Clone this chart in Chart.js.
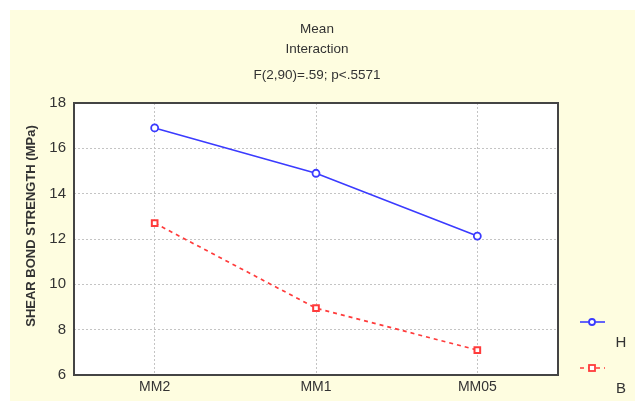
<!DOCTYPE html>
<html lang="en">
<head>
  <meta charset="UTF-8" />
  <title>Mean Interaction</title>
  <script src="https://cdn.jsdelivr.net/npm/chart.js"></script>
  <style>
    body { margin: 0; background: #fff; }
    #wrap { width: 635px; height: 401px; }
  </style>
</head>
<body>
  <div id="wrap"><canvas id="meanChart" width="635" height="401"></canvas></div>
  <script>
    const groups = ['MM2', 'MM1', 'MM05'];
    const seriesH = [16.9, 14.9, 12.13];
    const seriesB = [12.7, 8.95, 7.1];
    const titleLines = ['Mean', 'Interaction', 'F(2,90)=.59; p<.5571'];
    const yTitle = 'SHEAR BOND STRENGTH (MPa)';

    const FONT = '"Liberation Sans", Arial, sans-serif';

    // beige panel, titles, frame and the little legend on the right
    const decor = {
      id: 'decor',
      beforeDraw(chart) {
        const { ctx, chartArea: a } = chart;
        ctx.save();
        ctx.fillStyle = '#fefde0';
        ctx.fillRect(10, 10, chart.width - 10, chart.height - 10);
        ctx.fillStyle = '#fff';
        ctx.fillRect(a.left, a.top, a.right - a.left, a.bottom - a.top);
        ctx.restore();
      },
      afterDraw(chart) {
        const { ctx, chartArea: a } = chart;
        ctx.save();
        ctx.fillStyle = '#333';
        ctx.textAlign = 'center';
        ctx.textBaseline = 'middle';
        ctx.font = '13.5px ' + FONT;
        const ys = [29, 49, 75];
        titleLines.forEach((t, i) => ctx.fillText(t, 317, ys[i]));

        ctx.translate(31, 226);
        ctx.rotate(-Math.PI / 2);
        ctx.font = 'bold 13px ' + FONT;
        ctx.fillText(yTitle, 0, 0);
        ctx.restore();

        ctx.save();
        ctx.strokeStyle = '#444';
        ctx.lineWidth = 2;
        ctx.strokeRect(a.left, a.top, a.right - a.left, a.bottom - a.top);
        ctx.restore();

        // legend
        const items = [
          { ds: chart.data.datasets[0], y: 322 },
          { ds: chart.data.datasets[1], y: 368 }
        ];
        items.forEach(it => {
          ctx.save();
          ctx.strokeStyle = it.ds.borderColor;
          ctx.lineWidth = it.ds.borderWidth;
          ctx.setLineDash(it.ds.borderDash || []);
          ctx.beginPath();
          ctx.moveTo(580, it.y);
          ctx.lineTo(605, it.y);
          ctx.stroke();
          ctx.setLineDash([]);
          ctx.fillStyle = '#fff';
          ctx.lineWidth = 1.8;
          if (it.ds.pointStyle === 'rect') {
            ctx.fillRect(589, it.y - 3, 6, 6);
            ctx.strokeRect(589, it.y - 3, 6, 6);
          } else {
            ctx.beginPath();
            ctx.arc(592, it.y, 3, 0, Math.PI * 2);
            ctx.fill();
            ctx.stroke();
          }
          ctx.fillStyle = '#333';
          ctx.font = '15px ' + FONT;
          ctx.textAlign = 'center';
          ctx.textBaseline = 'middle';
          ctx.fillText(it.ds.label, 621, it.y + 21);
          ctx.restore();
        });
      }
    };

    new Chart(document.getElementById('meanChart'), {
      type: 'line',
      data: {
        labels: groups,
        datasets: [
          {
            label: 'H',
            data: seriesH,
            borderColor: '#3b3bff',
            backgroundColor: '#fff',
            borderWidth: 1.6,
            pointStyle: 'circle',
            pointRadius: 3.5,
            pointBorderWidth: 1.8,
            tension: 0
          },
          {
            label: 'B',
            data: seriesB,
            borderColor: '#ff3b3b',
            backgroundColor: '#fff',
            borderWidth: 1.7,
            borderDash: [4, 4],
            pointStyle: 'rect',
            pointRadius: 4,
            pointBorderWidth: 2,
            tension: 0
          }
        ]
      },
      options: {
        responsive: false,
        animation: false,
        layout: { padding: { top: 103, right: 77, left: 0, bottom: 0 } },
        plugins: {
          legend: { display: false },
          title: { display: false },
          tooltip: { enabled: false }
        },
        scales: {
          x: {
            offset: true,
            afterFit: s => { s.height = 26; },
            grid: { color: '#c4c4c4', drawTicks: false, offset: false },
            border: { display: false, dash: [2, 2] },
            ticks: { color: '#333', padding: 4, font: { family: FONT, size: 14 } }
          },
          y: {
            min: 6,
            max: 18,
            afterFit: s => { s.width = 74; },
            grid: { color: '#c4c4c4', drawTicks: false },
            border: { display: false, dash: [2, 2] },
            ticks: { stepSize: 2, color: '#333', padding: 8, font: { family: FONT, size: 15 } }
          }
        }
      },
      plugins: [decor]
    });
  </script>
</body>
</html>
